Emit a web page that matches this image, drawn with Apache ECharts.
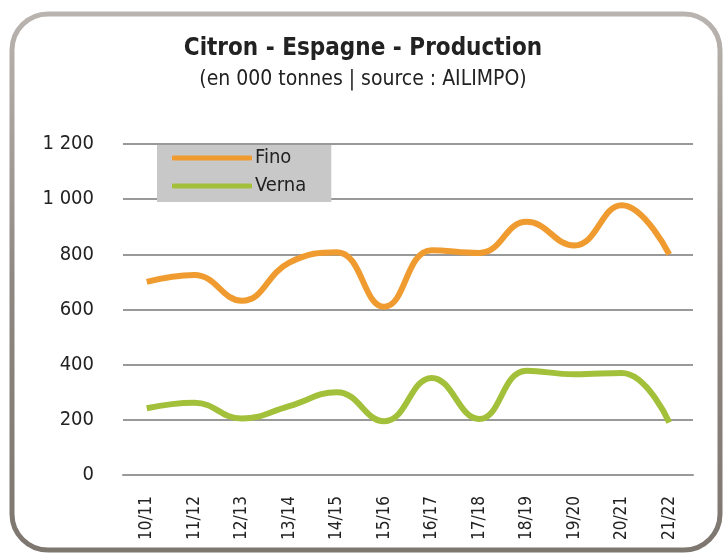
<!DOCTYPE html>
<html><head><meta charset="utf-8">
<script src="https://cdn.jsdelivr.net/npm/echarts@6/dist/echarts.min.js"></script>
<style>html,body{margin:0;padding:0;background:#fff}#c{width:726px;height:556px}</style>
</head><body><div id="c"></div>
<script>
const categories = ['10/11','11/12','12/13','13/14','14/15','15/16','16/17','17/18','18/19','19/20','20/21','21/22'];
const fino = [700, 725, 632, 770, 808, 610, 815, 805, 918, 832, 978, 800];
const verna = [242, 262, 205, 250, 300, 195, 352, 203, 378, 365, 370, 190];
const yTicks = [0, 200, 400, 600, 800, 1000, 1200];

const FONT = '"DejaVu Sans Condensed", "Liberation Sans Narrow", "Open Sans", sans-serif';
const chart = echarts.init(document.getElementById('c'));
chart.setOption({
  animation: false,
  backgroundColor: '#fff',
  graphic: [{
    type: 'rect', silent: true, z: -1,
    shape: {x: 12, y: 14, width: 708, height: 536, r: 36},
    style: {
      fill: '#fff', lineWidth: 5,
      stroke: new echarts.graphic.LinearGradient(0, 0, 0, 1, [
        {offset: 0, color: '#b9b4af'}, {offset: 0.5, color: '#8f8882'}, {offset: 1, color: '#7d7770'}
      ])
    }
  }],
  title: {
    text: 'Citron - Espagne - Production',
    subtext: '(en 000 tonnes | source : AILIMPO)',
    left: 'center', top: 32, itemGap: 8, padding: [5, 5, 5, 17],
    textStyle: {fontFamily: FONT, fontWeight: 'bold', fontSize: 24, color: '#222'},
    subtextStyle: {fontFamily: FONT, fontSize: 21, color: '#222'}
  },
  legend: {
    orient: 'vertical', left: 157, top: 145,
    backgroundColor: '#c8c8c8', borderRadius: 0,
    padding: [3, 25, 6, 15], itemGap: 8,
    itemWidth: 80, itemHeight: 5, icon: 'roundRect',
    textStyle: {fontFamily: FONT, fontSize: 20, color: '#222', padding: [0, 0, 0, -2]},
    data: ['Fino', 'Verna']
  },
  grid: {left: 123, right: 33, top: 144, bottom: 81},
  xAxis: {
    type: 'category', data: categories, boundaryGap: true,
    axisLine: {show: true, lineStyle: {color: '#999', width: 2}},
    axisTick: {show: false},
    axisLabel: {rotate: 90, margin: 21, fontFamily: FONT, fontSize: 17, color: '#222', interval: 0}
  },
  yAxis: {
    type: 'value', min: yTicks[0], max: yTicks[yTicks.length - 1], interval: 200,
    axisLine: {show: false}, axisTick: {show: false},
    splitLine: {lineStyle: {color: '#999', width: 2}},
    axisLabel: {
      margin: 29, fontFamily: FONT, fontSize: 20, color: '#222',
      formatter: v => String(v).replace(/\B(?=(\d{3})+(?!\d))/g, ' ')
    }
  },
  series: [
    {name: 'Fino', type: 'line', data: fino, smooth: 0.45, showSymbol: false,
     lineStyle: {color: '#ef9b2f', width: 6}, itemStyle: {color: '#ef9b2f'}},
    {name: 'Verna', type: 'line', data: verna, smooth: 0.45, showSymbol: false,
     lineStyle: {color: '#a3c03b', width: 6}, itemStyle: {color: '#a3c03b'}}
  ]
});
</script></body></html>
